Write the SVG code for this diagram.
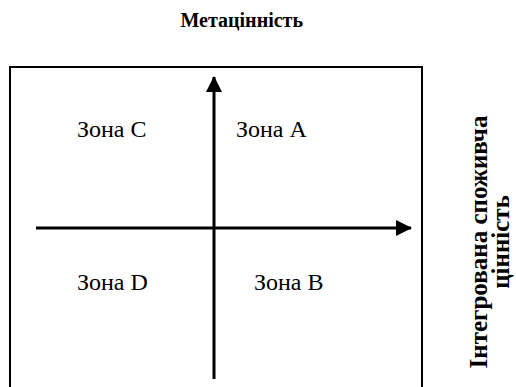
<svg xmlns="http://www.w3.org/2000/svg" width="516" height="387" viewBox="0 0 516 387">
<style>
.t{font-family:"Liberation Serif","Times New Roman","DejaVu Serif",serif;fill:#000}
.b{font-weight:700}
.z{font-size:24px}
.axis{stroke:#000;stroke-width:3;fill:none}
</style>
<defs>
<marker id="ah" viewBox="0 0 16 16" refX="15" refY="8" markerWidth="16" markerHeight="16" markerUnits="userSpaceOnUse" orient="auto">
<path d="M0,0 L16,8 L0,16 Z" fill="#000"/>
</marker>
</defs>
<rect width="516" height="387" fill="#fff"/>
<text class="t b" x="303" y="27" font-size="20" text-anchor="end">Метацінність</text>
<g id="frame"><path d="M10,400 V67 H422 V400" fill="none" stroke="#000" stroke-width="2"/></g>
<g id="connectors">
<line class="axis" x1="214" y1="379" x2="214" y2="77" marker-end="url(#ah)"/>
<line class="axis" x1="36" y1="228" x2="411" y2="228" marker-end="url(#ah)"/>
</g>
<g id="zoneC"><text class="t z" x="77" y="137">Зона C</text></g>
<g id="zoneA"><text class="t z" x="236" y="137">Зона A</text></g>
<g id="zoneD"><text class="t z" x="77" y="290">Зона D</text></g>
<g id="zoneB"><text class="t z" x="254" y="290">Зона B</text></g>
<g id="yLabel">
<text class="t b" font-size="25" text-anchor="middle" transform="translate(487,242) rotate(-90)">Інтегрована споживча</text>
<text class="t b" font-size="25" text-anchor="middle" transform="translate(509,242) rotate(-90)">цінність</text>
</g>
</svg>
